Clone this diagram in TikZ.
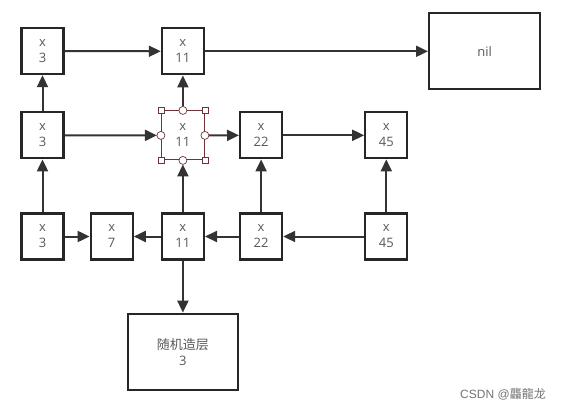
\documentclass[tikz,border=0pt]{standalone}
\usepackage{fontspec}
\setmainfont{Open Sans}
\newfontfamily\cjk{Noto Sans CJK SC}
\newfontfamily\wmfont{Liberation Sans}
\usetikzlibrary{arrows.meta,positioning}
\tikzstyle{cell} = [draw=black!85, line width=2.2pt, fill=white, minimum width=42pt, minimum height=46pt, inner sep=0pt, align=center, text=black!65, font=\fontsize{13}{16}\selectfont]
\tikzstyle{selcell} = [cell, draw=red!30!black!80, line width=1pt]
\tikzstyle{handsq} = [draw=red!30!black!80, fill=white, line width=0.7pt, minimum size=6pt, inner sep=0pt]
\tikzstyle{handdot} = [circle, draw=red!30!black!80, fill=white, line width=0.7pt, minimum size=8pt, inner sep=0pt]
\tikzstyle{arrow} = [line width=2pt, draw=black!80, -{Triangle[length=12pt,width=11pt]}]

\begin{document}
\begin{tikzpicture}[x=1pt, y=-1pt]
    \useasboundingbox (0,0) rectangle (570,409);
    % bottom level
    \node[cell] (b3) at (42.5,236.5) {x\\3};
    \node[cell, right=25pt of b3] (b7) {x\\7};
    \node[cell, right=27pt of b7] (b11) {x\\11};
    \node[cell, right=34pt of b11] (b22) {x\\22};
    \node[cell, right=81pt of b22] (b45) {x\\45};
    % middle level
    \node[cell, above=53pt of b3] (m3) {x\\3};
    \node[selcell, minimum width=43pt, minimum height=49pt, above=52pt of b11] (m11) {x\\11};
    \node[cell, above=53pt of b22] (m22) {x\\22};
    \node[cell, above=53pt of b45] (m45) {x\\45};
    % top level
    \node[cell, above=36pt of m3] (t3) {x\\3};
    \node[cell, above=35pt of m11] (t11) {x\\11};
    \node[cell, minimum width=111pt, minimum height=76pt, right=223pt of t11] (nil) {nil};
    % random level box
    \node[cell, minimum width=110pt, minimum height=76pt, below=52pt of b11] (rnd) {{\cjk 随机造层}\\3};

    \draw[arrow] (t3) -- (t11);
    \draw[arrow] (t11) -- (nil);
    \draw[arrow] (m3) -- (t3);
    \draw[arrow, shorten <=4pt] (m11) -- (t11);
    \draw[arrow, shorten >=4pt] (m3) -- (m11);
    \draw[arrow, shorten <=4pt] (m11) -- (m22);
    \draw[arrow] (m22) -- (m45);
    \draw[arrow] (b3) -- (m3);
    \draw[arrow, shorten >=4pt] (b11) -- (m11);
    \draw[arrow] (b22) -- (m22);
    \draw[arrow] (b45) -- (m45);
    \draw[arrow] (b3) -- (b7);
    \draw[arrow] (b11) -- (b7);
    \draw[arrow] (b22) -- (b11);
    \draw[arrow] (b45) -- (b22);
    \draw[arrow] (b11) -- (rnd);

    % selection handles
    \foreach \a in {north west, north east, south west, south east}
        \node[handsq] at (m11.\a) {};
    \foreach \a in {north, south, east, west}
        \node[handdot] at (m11.\a) {};

    \node[text=black!55, font=\wmfont\fontsize{12}{14}\selectfont] (wm) at (503,394) {CSDN @{\cjk 龘龍龙}};
\end{tikzpicture}
\end{document}
